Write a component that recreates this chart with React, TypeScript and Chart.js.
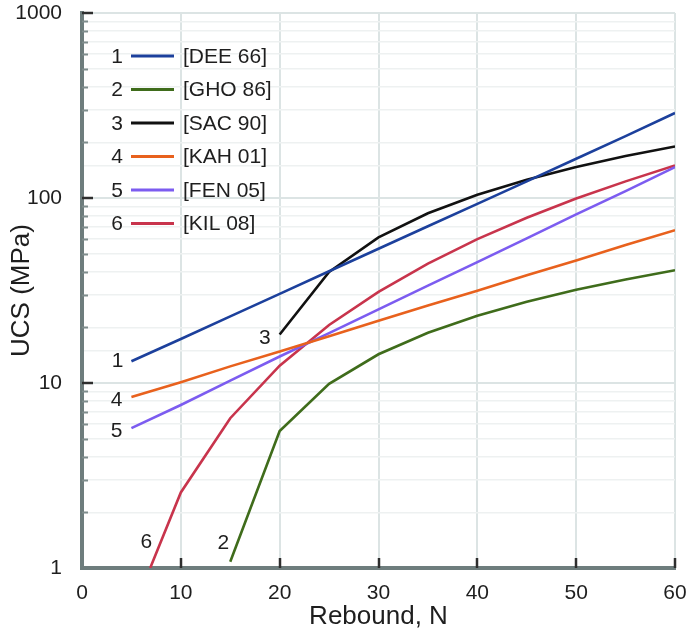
import { useEffect, useRef } from "react";
import { Chart, registerables } from "chart.js";

Chart.register(...registerables);

// Empirical UCS–rebound correlations
const seriesIds = ["1", "2", "3", "4", "5", "6"];
const seriesNames = ["[DEE 66]", "[GHO 86]", "[SAC 90]", "[KAH 01]", "[FEN 05]", "[KIL 08]"];

const reboundDee = [5, 10, 15, 20, 25, 30, 35, 40, 45, 50, 55, 60];
const ucsDee = [13.1, 17.3, 22.9, 30.3, 40.2, 53.2, 70.4, 93, 123, 163, 216, 288];

const reboundGho = [15, 20, 25, 30, 35, 40, 45, 50, 55, 60];
const ucsGho = [1.08, 5.5, 9.9, 14.3, 18.7, 23.1, 27.5, 31.9, 36.3, 40.7];

const reboundSac = [20, 25, 30, 35, 40, 45, 50, 55, 60];
const ucsSac = [18.3, 39.8, 61.2, 82.7, 104, 125.5, 147, 168.5, 190];

const reboundKah = [5, 10, 15, 20, 25, 30, 35, 40, 45, 50, 55, 60];
const ucsKah = [8.4, 10.1, 12.3, 14.8, 17.9, 21.7, 26.2, 31.5, 38.2, 46, 55.7, 67];

const reboundFen = [5, 10, 15, 20, 25, 30, 35, 40, 45, 50, 55, 60];
const ucsFen = [5.7, 7.6, 10.3, 13.9, 18.6, 25, 33.6, 45, 60.5, 81.5, 109, 147];

const reboundKil = [6.9, 10, 15, 20, 25, 30, 35, 40, 45, 50, 55, 60];
const ucsKil = [1.0, 2.56, 6.45, 12.4, 20.6, 31.1, 44.2, 59.9, 78.2, 99.3, 123, 150];

const xTickValues = [0, 10, 20, 30, 40, 50, 60];
const yTickLabels = [1, 10, 100, 1000];

const seriesColors = ["#1c409c", "#3f6c1b", "#111111", "#e8611d", "#7c5cf0", "#c8344c"];

// where each curve's number sits relative to its first point
const curveLabelOffsets = [
  { dx: -8, dy: 0 },
  { dx: -1, dy: -19 },
  { dx: -9, dy: 4 },
  { dx: -9, dy: 3 },
  { dx: -9, dy: 3 },
  { dx: 2, dy: -26 },
];

const FONT_FAMILY = '"Liberation Sans", Arial, Helvetica, sans-serif';
const TEXT_COLOR = "#1e1e1e";
const LABEL_SIZE = 21;
const TITLE_SIZE = 26;

const pairs = (xs: number[], ys: number[]) => xs.map((x, i) => ({ x, y: ys[i] }));

const seriesData = [
  pairs(reboundDee, ucsDee),
  pairs(reboundGho, ucsGho),
  pairs(reboundSac, ucsSac),
  pairs(reboundKah, ucsKah),
  pairs(reboundFen, ucsFen),
  pairs(reboundKil, ucsKil),
];

const decorPlugin = {
  id: "decor",
  afterDraw(chart: any) {
    const { ctx, chartArea: a, scales } = chart;
    const xs = scales.x;
    const ys = scales.y;
    ctx.save();

    // inner tick marks on the value axis
    ctx.lineCap = "butt";
    for (let d = 1; d < 1000; d *= 10) {
      for (let m = 2; m <= 9; m++) {
        const py = Math.round(ys.getPixelForValue(d * m)) + 0.5;
        ctx.strokeStyle = "#7f8d8d";
        ctx.lineWidth = 2;
        ctx.beginPath();
        ctx.moveTo(a.left, py);
        ctx.lineTo(a.left + 6, py);
        ctx.stroke();
      }
    }
    for (const v of yTickLabels) {
      if (v === 1) continue;
      const py = Math.round(ys.getPixelForValue(v));
      ctx.strokeStyle = "#2e2e2e";
      ctx.lineWidth = 2.5;
      ctx.beginPath();
      ctx.moveTo(a.left, py);
      ctx.lineTo(a.left + 11, py);
      ctx.stroke();
    }
    // inner tick marks on the rebound axis
    for (const v of xTickValues) {
      if (v === 0) continue;
      const px = Math.round(xs.getPixelForValue(v));
      ctx.strokeStyle = "#2e2e2e";
      ctx.lineWidth = 2.5;
      ctx.beginPath();
      ctx.moveTo(px, a.bottom);
      ctx.lineTo(px, a.bottom - 10);
      ctx.stroke();
    }

    ctx.font = `${LABEL_SIZE}px ${FONT_FAMILY}`;
    ctx.fillStyle = TEXT_COLOR;
    ctx.textBaseline = "middle";

    // curve numbers next to where each curve begins
    seriesData.forEach((pts, i) => {
      const first = pts[0];
      const px = xs.getPixelForValue(first.x);
      const py = ys.getPixelForValue(first.y);
      const off = curveLabelOffsets[i];
      ctx.textAlign = "right";
      ctx.fillText(seriesIds[i], px + off.dx, py + off.dy);
    });

    // legend
    const rowTop = a.top + 43;
    const rowGap = 33.5;
    seriesIds.forEach((id, i) => {
      const cy = rowTop + i * rowGap;
      ctx.textAlign = "right";
      ctx.fillStyle = TEXT_COLOR;
      ctx.fillText(id, a.left + 41, cy + 1);
      ctx.strokeStyle = seriesColors[i];
      ctx.lineWidth = 3;
      ctx.beginPath();
      ctx.moveTo(a.left + 49, cy);
      ctx.lineTo(a.left + 92, cy);
      ctx.stroke();
      ctx.textAlign = "left";
      ctx.fillText(seriesNames[i], a.left + 101, cy + 1);
    });

    ctx.restore();
  },
};

export default function App() {
  const canvasRef = useRef<HTMLCanvasElement | null>(null);

  useEffect(() => {
    const canvas = canvasRef.current;
    if (!canvas) return;

    const chart = new Chart(canvas, {
      type: "line",
      data: {
        datasets: seriesData.map((pts, i) => ({
          label: seriesNames[i],
          data: pts,
          borderColor: seriesColors[i],
          backgroundColor: seriesColors[i],
          borderWidth: 2.6,
          pointRadius: 0,
          pointHoverRadius: 0,
          tension: 0,
          fill: false,
        })),
      },
      options: {
        responsive: false,
        animation: false,
        events: [],
        layout: { padding: { top: 13, right: 17, left: 0, bottom: 0 } },
        plugins: {
          legend: { display: false },
          tooltip: { enabled: false },
        },
        scales: {
          x: {
            type: "linear",
            min: 0,
            max: 60,
            afterBuildTicks: (scale: any) => {
              scale.ticks = xTickValues.map((v) => ({ value: v }));
            },
            ticks: {
              font: { family: FONT_FAMILY, size: LABEL_SIZE },
              color: TEXT_COLOR,
              padding: 0,
              maxRotation: 0,
              autoSkip: false,
            },
            grid: {
              color: "#dce4e4",
              lineWidth: 2,
              drawTicks: true,
              tickLength: 13,
              tickColor: "rgba(0,0,0,0)",
            },
            border: { color: "#6e7d7d", width: 4 },
            title: {
              display: true,
              text: "Rebound, N",
              font: { family: FONT_FAMILY, size: TITLE_SIZE },
              color: TEXT_COLOR,
              padding: 3,
            },
            afterFit: (scale: any) => {
              scale.height = 67;
            },
          },
          y: {
            type: "logarithmic",
            min: 1,
            max: 1000,
            ticks: {
              font: { family: FONT_FAMILY, size: LABEL_SIZE },
              color: TEXT_COLOR,
              padding: 0,
              autoSkip: false,
              callback: (value: any) => (yTickLabels.includes(Number(value)) ? String(value) : ""),
            },
            grid: {
              color: (c: any) => {
                const v = c.tick ? c.tick.value : 0;
                return yTickLabels.includes(v) ? "#dce4e4" : "#eef1f1";
              },
              lineWidth: (c: any) => {
                const v = c.tick ? c.tick.value : 0;
                return yTickLabels.includes(v) ? 2 : 1.5;
              },
              drawTicks: true,
              tickLength: 20,
              tickColor: "rgba(0,0,0,0)",
            },
            border: { color: "#6e7d7d", width: 4 },
            title: {
              display: true,
              text: "UCS (MPa)",
              font: { family: FONT_FAMILY, size: TITLE_SIZE },
              color: TEXT_COLOR,
              padding: 6,
            },
            afterFit: (scale: any) => {
              scale.width = 82;
            },
          },
        },
      },
      plugins: [decorPlugin],
    });

    return () => chart.destroy();
  }, []);

  return (
    <div style={{ position: "absolute", left: 0, top: 0, width: 692, height: 635, background: "#fff" }}>
      <canvas ref={canvasRef} width={692} height={635} style={{ display: "block" }} />
    </div>
  );
}
